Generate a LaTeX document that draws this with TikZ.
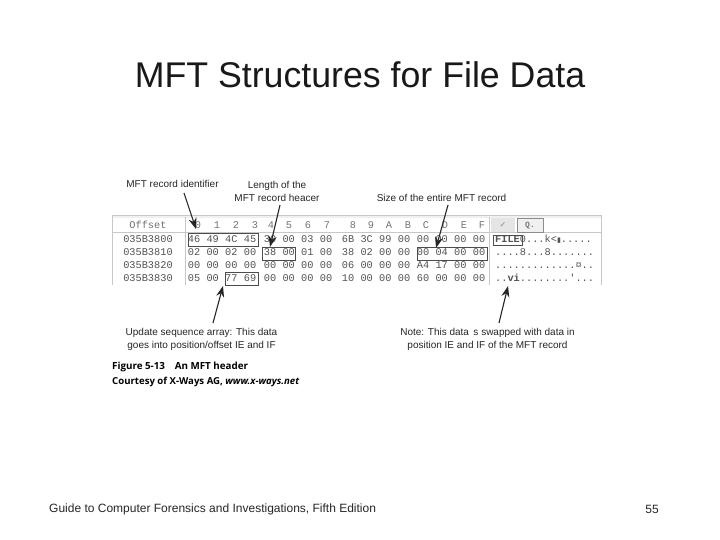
\documentclass[tikz,border=0pt]{standalone}
\usepackage{fontspec}
\setmainfont{Liberation Sans}
\newfontfamily\capfont{Open Sans}
\setmonofont{Liberation Mono}
\usetikzlibrary{arrows.meta}
\definecolor{hexgray}{gray}{0.32}
\tikzset{
  x=1pt,y=-1pt,
  lbl/.style={inner sep=0pt,align=center,font=\fontsize{10}{13}\selectfont,text=black!85},
  hexcell/.style={inner sep=0pt,font=\ttfamily\fontsize{10.3}{10}\selectfont,text=hexgray},
  hdrcell/.style={inner sep=0pt,font=\ttfamily\fontsize{10.3}{10}\selectfont,text=black!55},
  markbox/.style={draw=black!70,line width=0.9pt,inner sep=0pt,minimum height=13pt},
  callout/.style={draw=black!85,line width=1.1pt,-{Stealth[length=11pt,width=8pt]}},
  rulegray/.style={draw=black!22,line width=0.8pt}
}
\begin{document}
\begin{tikzpicture}
\useasboundingbox[fill=white] (0,0) rectangle (720,540);
\node[inner sep=0pt,font=\fontsize{35.7}{38}\selectfont,text=black!90] (title) at (360,75) {MFT Structures for File Data};
% table frame
\fill[black!6] (112,215) rectangle (601,218);
\draw[rulegray] (112,215.5) -- (601,215.5);
\draw[rulegray] (112,232) -- (601,232);
\draw[rulegray] (112,215) -- (112,285);
\draw[rulegray] (601,215) -- (601,285);
\draw[rulegray] (185,217) -- (185,285);
\draw[rulegray] (489,217) -- (489,285);
\fill[black!10] (491,218) rectangle (515,232);
\draw[black!45,line width=0.9pt,fill=black!6] (517,218) rectangle (543,232);
\node[inner sep=0pt,font=\fontsize{8}{8}\selectfont,text=black!45] (chk) at (503,225) {\fontspec{DejaVu Sans}✓};
\node[hdrcell,font=\ttfamily\bfseries\fontsize{8}{8}\selectfont] (btn) at (530,226) {Q.};
% header and offsets
\node[hdrcell] (off) at (148,225) {Offset};
\node[hexcell] (r0) at (148,239) {035B3800};
\node[hexcell] (r1) at (148,252.5) {035B3810};
\node[hexcell] (r2) at (148,265.5) {035B3820};
\node[hexcell] (r3) at (148,278) {035B3830};
\foreach \c/\t in {198/0,217/1,236/2,255/3,271/4,289/5,308/6,327/7,353/8,371/9,389/A,408/B,426/C,445/D,464/E,482/F}
  \node[hdrcell] (h\t) at (\c,225) {\t};
\foreach \y/\row in {239/{46,49,4C,45,30,00,03,00,6B,3C,99,00,00,00,00,00},
                     252.5/{02,00,02,00,38,00,01,00,38,02,00,00,00,04,00,00},
                     265.5/{00,00,00,00,00,00,00,00,06,00,00,00,A4,17,00,00},
                     278/{05,00,77,69,00,00,00,00,10,00,00,00,60,00,00,00}}{
  \foreach \b [count=\i from 0] in \row {
    \pgfmathsetmacro{\xx}{\i<4 ? 194+18.7*\i : (\i<8 ? 270+18.7*(\i-4) : (\i<12 ? 348+18.7*(\i-8) : 423+18.7*(\i-12)))}
    \node[hexcell] (b\i-\y) at (\xx,\y) {\b};
  }
}
% ascii
\node[hexcell,anchor=west] (a0) at (495,239) {\textbf{FILE}0...k<\fontspec{DejaVu Sans}\fontsize{7}{7}\selectfont▮\ttfamily\fontsize{10.3}{10}\selectfont.....};
\node[hexcell,anchor=west] (a1) at (495,252.5) {....8...8.......};
\node[hexcell,anchor=west] (a2) at (495,265.5) {.............¤..};
\node[hexcell,anchor=west] (a3) at (495,278) {..\textbf{vi}........'...};
% highlight boxes
\node[markbox,minimum width=70pt] (bx1) at (223,239.5) {};
\node[markbox,minimum width=33pt] (bx2) at (278.5,253.5) {};
\node[markbox,minimum width=33pt] (bx3) at (241.5,278.5) {};
\node[markbox,minimum width=70pt] (bx4) at (452,253.5) {};
\node[markbox,minimum width=29pt,minimum height=10pt] (bx5) at (507.5,240) {};
% labels
\node[lbl] (l1) at (172.5,184) {MFT record identifier};
\node[lbl] (l2) at (277,191.5) {Length of the\\MFT record heacer};
\node[lbl] (l3) at (441.5,197.5) {Size of the entire MFT record};
\node[lbl] (l4) at (201.5,339.5) {Update sequence array: This data\\goes into position/offset IE and IF};
\node[lbl] (l5) at (487.5,339.5) {Note: This data \,s swapped with data in\\position IE and IF of the MFT record};
% arrows
\coordinate (s1) at (184,193); \coordinate (e1) at (196,229);
\coordinate (s2) at (280,205); \coordinate (e2) at (270,247);
\coordinate (s3) at (448,205); \coordinate (e3) at (436,248);
\coordinate (s4) at (213,323); \coordinate (e4) at (223,286);
\coordinate (s5) at (499,323); \coordinate (e5) at (508,286);
\draw[callout] (s1) -- (e1);
\draw[callout] (s2) -- (e2);
\draw[callout] (s3) -- (e3);
\draw[callout] (s4) -- (e4);
\draw[callout] (s5) -- (e5);
% caption
\node[inner sep=0pt,anchor=west,font=\capfont\bfseries\fontsize{9.8}{10}\selectfont,text=black] (cap1) at (112,367) {Figure 5-13\quad An MFT header};
\node[inner sep=0pt,anchor=west,font=\capfont\fontsize{9.6}{10}\selectfont,text=black] (cap2) at (112,382) {\textbf{Courtesy of X-Ways AG, \textit{www.x-ways.net}}};
% footer
\node[inner sep=0pt,anchor=west,font=\fontsize{12}{14}\selectfont,text=black!85] (foot) at (49,509) {Guide to Computer Forensics and Investigations, Fifth Edition};
\node[inner sep=0pt,font=\fontsize{12}{14}\selectfont,text=black!85] (pg) at (652,509) {55};
\end{tikzpicture}
\end{document}
